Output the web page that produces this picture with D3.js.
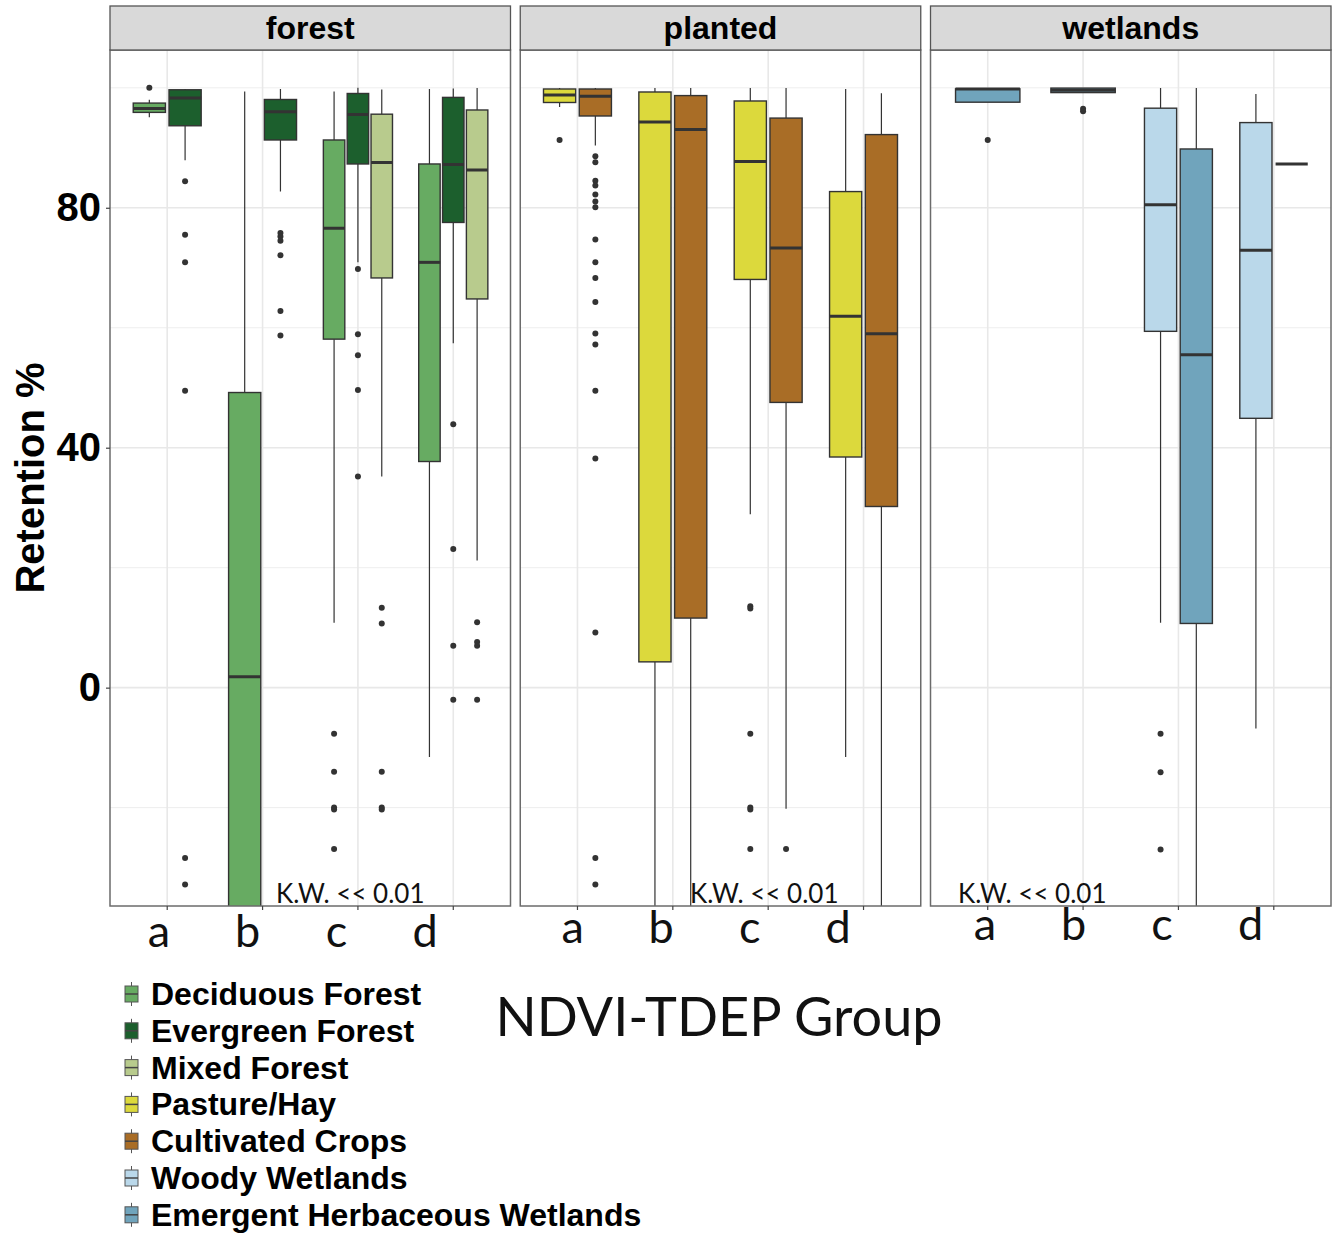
<!DOCTYPE html>
<html>
<head>
<meta charset="utf-8">
<script src="https://cdn.jsdelivr.net/npm/d3@7"></script>
<style>
  body { margin: 0; background: #fff; }
  svg { display: block; }
</style>
</head>
<body>
<div id="chart"></div>
<script>
const panels = ['forest', 'planted', 'wetlands'];
const groups = ['a', 'b', 'c', 'd'];
const classNames = ['Deciduous Forest', 'Evergreen Forest', 'Mixed Forest', 'Pasture/Hay',
  'Cultivated Crops', 'Woody Wetlands', 'Emergent Herbaceous Wetlands'];
const classPanels = ['forest', 'forest', 'forest', 'planted', 'planted', 'wetlands', 'wetlands'];
const classColors = ['#67ab62', '#1c5f2d', '#b8cb8d', '#dcd93c', '#a96d26', '#bad8ea', '#70a4bc'];

// box stats per land-cover class (lo/hi = whisker ends)
const deciduous = [
  { g: 'a', lo: 95.1, q1: 95.9, med: 96.55, q3: 97.45, hi: 98.0, out: [100] },
  { g: 'b', lo: -80, q1: -45, med: 1.8, q3: 49.2, hi: 99.4, out: [] },
  { g: 'c', lo: 10.8, q1: 58.1, med: 76.6, q3: 91.3, hi: 99.4, out: [-7.7, -14, -20, -20.3, -26.9] },
  { g: 'd', lo: -11.55, q1: 37.7, med: 70.9, q3: 87.3, hi: 99.8, out: [] }
];
const evergreen = [
  { g: 'a', lo: 87.9, q1: 93.67, med: 98.28, q3: 99.67, hi: 99.8, out: [84.4, 75.5, 70.9, 49.5, -28.4, -32.8] },
  { g: 'b', lo: 82.7, q1: 91.3, med: 96.0, q3: 98.05, hi: 99.8, out: [75.8, 75.2, 74.5, 72.1, 62.8, 58.7] },
  { g: 'c', lo: 70.9, q1: 87.3, med: 95.55, q3: 99.05, hi: 100, out: [69.8, 58.9, 55.4, 49.6, 35.2] },
  { g: 'd', lo: 57.4, q1: 77.55, med: 87.2, q3: 98.4, hi: 99.9, out: [43.9, 23.1, 7.0, -2.0] }
];
const mixed = [
  { g: 'c', lo: 35.2, q1: 68.3, med: 87.55, q3: 95.6, hi: 99.7, out: [13.3, 10.7, -14, -20, -20.3] },
  { g: 'd', lo: 21.2, q1: 64.8, med: 86.3, q3: 96.3, hi: 99.95, out: [10.9, 7.6, 7.0, -2.0] }
];
const pasture = [
  { g: 'a', lo: 96.8, q1: 97.55, med: 98.8, q3: 99.8, hi: 99.95, out: [91.3] },
  { g: 'b', lo: -40, q1: 4.3, med: 94.3, q3: 99.3, hi: 99.95, out: [] },
  { g: 'c', lo: 28.9, q1: 68.05, med: 87.7, q3: 97.8, hi: 99.95, out: [13.55, 13.2, -7.7, -20, -20.3, -26.9] },
  { g: 'd', lo: -11.55, q1: 38.45, med: 61.9, q3: 82.7, hi: 99.8, out: [] }
];
const crops = [
  { g: 'a', lo: 90.4, q1: 95.3, med: 98.6, q3: 99.8, hi: 99.95,
    out: [88.6, 87.6, 84.5, 83.7, 82.2, 81.05, 80.1, 74.7, 70.9, 68.3, 64.3, 59.05, 57.2, 49.5, 38.2, 9.2, -28.4, -32.8] },
  { g: 'b', lo: -40, q1: 11.6, med: 93.05, q3: 98.7, hi: 99.95, out: [] },
  { g: 'c', lo: -20.2, q1: 47.55, med: 73.3, q3: 94.95, hi: 99.95, out: [-26.9] },
  { g: 'd', lo: -40, q1: 30.2, med: 59.0, q3: 92.2, hi: 99.1, out: [] }
];
const woody = [
  { g: 'c', lo: 10.8, q1: 59.4, med: 80.5, q3: 96.6, hi: 99.95, out: [-7.7, -14.1, -27] },
  { g: 'd', lo: -6.8, q1: 44.9, med: 72.9, q3: 94.2, hi: 98.95, out: [] }
];
const emergent = [
  { g: 'a', lo: 97.6, q1: 97.6, med: 99.8, q3: 99.83, hi: 99.83, out: [91.3] },
  { g: 'b', lo: 99.2, q1: 99.2, med: 99.6, q3: 99.95, hi: 99.95, out: [96.5, 96.1] },
  { g: 'c', lo: -40, q1: 10.7, med: 55.5, q3: 89.8, hi: 99.95, out: [] },
  { g: 'd', lo: 87.3, q1: 87.3, med: 87.3, q3: 87.3, hi: 87.3, out: [] }
];
const classStats = [deciduous, evergreen, mixed, pasture, crops, woody, emergent];

const yTicks = [0, 40, 80];
const yMinorTicks = [-20, 20, 60, 100];
const groupLabels = ['a', 'b', 'c', 'd'];
const kwLabel = 'K.W. << 0.01';

const width = 1342;
const height = 1234;
const boldFont = '"Liberation Sans", Arial, sans-serif';
const softFont = 'Lato, "Open Sans", sans-serif';

const svg = d3.select('#chart').append('svg')
  .attr('width', width)
  .attr('height', height)
  .style('background', '#fff');

const y = d3.scaleLinear().domain([-36.4, 106.3]).range([906, 50]);
const panelX = d3.scaleBand().domain(panels).range([110, 1331]).paddingInner(0.0238);

// hand-placed group letters and K.W. notes, like the overlaid text in the original
const letterPos = {
  forest: { x0: 159, step: 88.7, base: 947 },
  planted: { x0: 572.7, step: 88.5, base: 943 },
  wetlands: { x0: 985, step: 88.5, base: 940 }
};
const kwPos = { forest: 276, planted: 690, wetlands: 958 };

panels.forEach(panel => {
  const x0 = panelX(panel);
  const bw = panelX.bandwidth();
  const x = d3.scalePoint().domain(groups).range([x0, x0 + bw]).padding(0.6);
  const step = x.step();
  const g = svg.append('g');

  const clipId = 'clip-' + panel;
  svg.append('clipPath').attr('id', clipId)
    .append('rect')
      .attr('x', x0).attr('y', y.range()[1])
      .attr('width', bw).attr('height', y.range()[0] - y.range()[1]);

  // grid
  g.selectAll('.minor').data(yMinorTicks).join('line')
    .attr('x1', x0).attr('x2', x0 + bw)
    .attr('y1', d => y(d)).attr('y2', d => y(d))
    .attr('stroke', '#eeeeee').attr('stroke-width', 1);
  g.selectAll('.major').data(yTicks).join('line')
    .attr('x1', x0).attr('x2', x0 + bw)
    .attr('y1', d => y(d)).attr('y2', d => y(d))
    .attr('stroke', '#e8e8e8').attr('stroke-width', 1.6);
  g.selectAll('.vgrid').data(groups).join('line')
    .attr('x1', d => x(d)).attr('x2', d => x(d))
    .attr('y1', y.range()[1]).attr('y2', y.range()[0])
    .attr('stroke', '#e8e8e8').attr('stroke-width', 1.6);

  // dodge the boxes present in each group
  const idx = classPanels.map((p, i) => p === panel ? i : -1).filter(i => i >= 0);
  const boxes = [];
  groups.forEach(grp => {
    const present = idx.filter(i => classStats[i].some(s => s.g === grp));
    const slot = 0.75 * step / present.length;
    present.forEach((ci, k) => {
      const s = classStats[ci].find(d => d.g === grp);
      boxes.push({ ...s, color: classColors[ci], cx: x(grp) - 0.375 * step + slot * (k + 0.5), w: slot * 0.9 });
    });
  });

  const marks = g.append('g').attr('clip-path', 'url(#' + clipId + ')');
  const bg = marks.selectAll('g.box').data(boxes).join('g').attr('class', 'box');

  bg.append('line')
    .attr('x1', d => d.cx).attr('x2', d => d.cx)
    .attr('y1', d => y(d.hi)).attr('y2', d => y(d.q3))
    .attr('stroke', '#333').attr('stroke-width', 1.2);
  bg.append('line')
    .attr('x1', d => d.cx).attr('x2', d => d.cx)
    .attr('y1', d => y(d.q1)).attr('y2', d => y(d.lo))
    .attr('stroke', '#333').attr('stroke-width', 1.2);
  bg.append('rect')
    .attr('x', d => d.cx - d.w / 2).attr('width', d => d.w)
    .attr('y', d => y(d.q3)).attr('height', d => y(d.q1) - y(d.q3))
    .attr('fill', d => d.color)
    .attr('stroke', '#333').attr('stroke-width', 1.4);
  bg.append('line')
    .attr('x1', d => d.cx - d.w / 2).attr('x2', d => d.cx + d.w / 2)
    .attr('y1', d => y(d.med)).attr('y2', d => y(d.med))
    .attr('stroke', '#333').attr('stroke-width', 3);
  bg.selectAll('circle').data(d => d.out.map(v => ({ v, cx: d.cx }))).join('circle')
    .attr('cx', d => d.cx).attr('cy', d => y(d.v))
    .attr('r', 3).attr('fill', '#333');

  // panel border + x ticks
  g.append('rect')
    .attr('x', x0).attr('y', y.range()[1])
    .attr('width', bw).attr('height', y.range()[0] - y.range()[1])
    .attr('fill', 'none').attr('stroke', '#6b6b6b').attr('stroke-width', 1.5);
  g.selectAll('.xtick').data(groups).join('line')
    .attr('x1', d => x(d)).attr('x2', d => x(d))
    .attr('y1', y.range()[0]).attr('y2', y.range()[0] + 4)
    .attr('stroke', '#444').attr('stroke-width', 1.2);

  // strip
  g.append('rect')
    .attr('x', x0).attr('y', 6)
    .attr('width', bw).attr('height', 44)
    .attr('fill', '#d9d9d9').attr('stroke', '#555').attr('stroke-width', 1.3);
  g.append('text')
    .attr('x', x0 + bw / 2).attr('y', 39)
    .attr('text-anchor', 'middle')
    .style('font-family', boldFont).style('font-weight', 'bold').style('font-size', '32px')
    .text(panel);

  const lp = letterPos[panel];
  g.selectAll('.glabel').data(groupLabels).join('text')
    .attr('x', (d, i) => lp.x0 + lp.step * i).attr('y', lp.base)
    .attr('text-anchor', 'middle')
    .style('font-family', softFont).style('font-size', '45px').attr('fill', '#111')
    .text(d => d);

  g.append('text')
    .attr('x', kwPos[panel]).attr('y', 902.5)
    .style('font-family', softFont).style('font-size', '26px').attr('fill', '#111')
    .text(kwLabel);
});

// y axis on the first panel
const yAxis = svg.append('g')
  .attr('transform', 'translate(' + panelX('forest') + ',0)')
  .call(d3.axisLeft(y).tickValues(yTicks).tickSize(4).tickPadding(5));
yAxis.select('.domain').remove();
yAxis.selectAll('.tick line').attr('stroke', '#444').attr('stroke-width', 1.2);
yAxis.selectAll('.tick text')
  .style('font-family', boldFont).style('font-weight', 'bold').style('font-size', '40px')
  .attr('fill', '#000');

svg.append('text')
  .attr('transform', 'translate(44,478) rotate(-90)')
  .attr('text-anchor', 'middle')
  .style('font-family', boldFont).style('font-weight', 'bold').style('font-size', '40px')
  .text('Retention %');

svg.append('text')
  .attr('x', 719).attr('y', 1036)
  .attr('text-anchor', 'middle')
  .style('font-family', softFont).style('font-size', '54px').attr('fill', '#111')
  .text('NDVI-TDEP Group');

// legend
const legend = svg.append('g');
const legendRows = legend.selectAll('g').data(classNames).join('g')
  .attr('transform', (d, i) => 'translate(0,' + (994 + i * 36.8) + ')');
legendRows.append('line')
  .attr('x1', 131.5).attr('x2', 131.5).attr('y1', -12).attr('y2', 12)
  .attr('stroke', '#555').attr('stroke-width', 1);
legendRows.append('rect')
  .attr('x', 125).attr('y', -8).attr('width', 13).attr('height', 16)
  .attr('fill', (d, i) => classColors[i])
  .attr('stroke', '#555').attr('stroke-width', 1);
legendRows.append('line')
  .attr('x1', 125).attr('x2', 138).attr('y1', 0).attr('y2', 0)
  .attr('stroke', '#444').attr('stroke-width', 1.5);
legendRows.append('text')
  .attr('x', 151).attr('y', 11)
  .style('font-family', boldFont).style('font-weight', 'bold').style('font-size', '32px')
  .text(d => d);
</script>
</body>
</html>
